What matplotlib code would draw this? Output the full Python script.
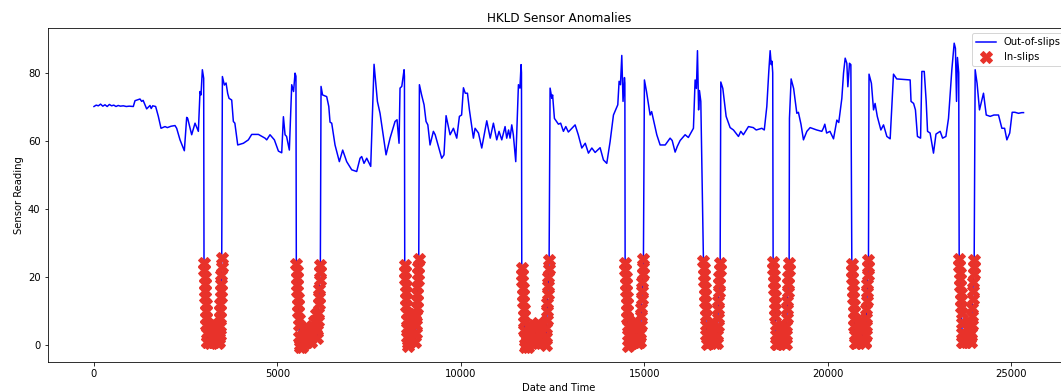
import numpy as np
from matplotlib import pyplot as plt

# out-of-slip readings (index, value)
out_x = [0, 60, 120, 180, 240, 300, 360, 420, 480, 540, 600, 660, 720, 800, 880, 960, 1072, 1118, 1254, 1300, 1340,
         1436, 1527, 1560, 1600, 1681, 1754, 1827, 1936, 2000, 2100, 2208, 2254, 2345, 2463, 2527, 2554, 2663, 2754,
         2845, 2890, 2917, 2954, 2990,
         3500, 3554, 3600, 3645, 3681, 3754, 3799, 3840, 3918, 4072, 4208, 4299, 4481, 4662, 4708, 4798, 4917, 5027,
         5117, 5163, 5208, 5250, 5325, 5390, 5440, 5480, 5505,
         6189, 6230, 6343, 6400, 6434, 6480, 6570, 6688, 6779, 6888, 7025, 7161, 7252, 7297, 7360, 7434, 7543, 7634,
         7725, 7797, 7961, 8070, 8206, 8260, 8315, 8342, 8390, 8452, 8462,
         8870, 8930, 8997, 9051, 9100, 9160, 9251, 9300, 9478, 9540, 9597, 9706, 9797, 9888, 9960, 10020, 10070,
         10120, 10180, 10233, 10342, 10365, 10387, 10480, 10569, 10706, 10800, 10887, 10978, 11040, 11115, 11205,
         11250, 11300, 11341, 11387, 11430, 11496, 11569, 11610, 11641, 11652,
         12432, 12480, 12500, 12550, 12659, 12720, 12795, 12860, 12930, 13114, 13200, 13296, 13390, 13477, 13570,
         13660, 13795, 13886, 13977, 14068, 14159, 14277, 14313, 14350, 14386, 14420, 14459, 14470,
         15003, 15060, 15158, 15200, 15340, 15431, 15570, 15703, 15760, 15840, 15900, 15976, 16112, 16200, 16339,
         16385, 16420, 16449, 16480, 16503, 16540,
         17085, 17140, 17230, 17339, 17430, 17566, 17630, 17700, 17839, 17970, 18050, 18203, 18270, 18339, 18393,
         18430, 18460, 18480, 18500,
         18956, 19002, 19070, 19157, 19200, 19270, 19338, 19430, 19520, 19700, 19838, 19880, 19920, 19970, 20060,
         20157, 20248, 20300, 20384, 20430, 20475, 20520, 20548, 20593, 20630,
         21125, 21190, 21248, 21290, 21350, 21448, 21520, 21611, 21701, 21792, 21880, 22246, 22270, 22340, 22390,
         22445, 22530, 22565, 22630, 22683, 22720, 22790, 22882, 22950, 23064, 23130, 23220, 23291, 23382, 23446,
         23480, 23510, 23535, 23570,
         24018, 24070, 24136, 24245, 24320, 24427, 24530, 24654, 24746, 24820, 24882, 24960, 25027, 25100, 25200,
         25290, 25336]
out_y = [70.1, 70.5, 70.3, 70.8, 70.2, 70.6, 70.1, 70.7, 70.3, 70.5, 70.1, 70.4, 70.2, 70.3, 70.1, 70.2, 70.1, 71.8,
         72.3, 71.6, 71.9, 69.4, 70.4, 69.5, 70.3, 70.1, 67.2, 63.7, 64.2, 63.9, 64.3, 64.5, 63.7, 60.3, 57.1, 66.9,
         66.6, 61.8, 65.2, 62.8, 74.5, 73.5, 80.9, 78.4,
         78.9, 76.4, 77.0, 73.9, 72.5, 72.0, 65.7, 65.2, 58.8, 59.3, 60.3, 61.9, 61.9, 60.8, 60.3, 61.8, 60.3, 57.0,
         56.5, 67.1, 61.8, 61.3, 57.3, 76.5, 74.5, 79.9, 79.0,
         76.0, 73.5, 73.0, 70.1, 65.5, 65.2, 58.8, 53.9, 57.3, 53.9, 51.5, 51.0, 54.9, 55.4, 53.4, 54.9, 52.5, 82.5,
         71.6, 68.1, 55.9, 60.8, 65.7, 66.2, 59.3, 75.5, 76.0, 80.9, 79.0,
         76.5, 73.5, 70.6, 65.7, 64.7, 58.8, 62.8, 61.8, 54.9, 55.9, 67.4, 61.8, 63.7, 60.8, 67.2, 67.6, 75.6,
         74.0, 74.0, 69.1, 60.8, 62.3, 63.7, 62.3, 57.9, 65.9, 60.8, 65.2, 60.3, 62.8, 60.3, 64.2,
         60.8, 63.2, 60.8, 64.7, 61.8, 53.9, 76.5, 75.5, 82.4, 80.0,
         75.5, 72.5, 73.5, 66.6, 64.9, 65.2, 62.8, 64.2, 62.6, 64.7, 61.8, 57.9, 59.3, 56.4, 57.9,
         56.6, 58.0, 54.4, 53.4, 59.8, 67.6, 70.6, 77.5, 76.5, 85.1, 71.6, 78.6, 77.0,
         77.9, 74.5, 67.6, 68.6, 61.8, 58.8, 58.8, 60.8, 60.1, 56.7, 58.4, 60.1, 61.8, 61.0, 63.7,
         77.9, 75.4, 86.5, 69.1, 74.8, 71.6,
         77.3, 75.4, 67.2, 63.9, 63.2, 61.3, 62.8, 61.8, 64.2, 63.9, 63.2, 63.7, 63.2, 70.1, 80.4,
         86.5, 82.4, 83.4, 80.0,
         66.6, 78.2, 75.4, 68.1, 68.4, 64.9, 60.3, 62.8, 63.9, 63.2, 62.8, 63.7, 64.9, 62.3, 62.8,
         60.6, 66.1, 65.4, 72.5, 79.9, 84.3, 82.8, 75.9, 82.8, 82.4,
         79.6, 76.9, 69.1, 71.0, 67.2, 63.2, 64.7, 61.3, 60.6, 79.6, 78.2, 77.9, 71.6, 71.0, 69.1,
         61.3, 60.8, 80.4, 80.4, 71.6, 62.8, 62.3, 56.4, 62.0, 62.8, 60.8, 61.3, 66.6, 80.9, 88.7,
         87.2, 71.6, 84.5, 80.0,
         80.9, 76.9, 69.1, 74.0, 67.6, 67.2, 67.6, 67.6, 63.7, 63.7, 60.3, 62.3, 68.4, 68.4, 68.1,
         68.3, 68.3]

# in-slip readings, one list per slip event
slip_x = [
    [2999, 3006, 3013, 3020, 3027, 3034, 3041, 3048, 3055, 3062, 3069, 3076,
     3090, 3120, 3150, 3180, 3210, 3240, 3270, 3300, 3330, 3360, 3390, 3410,
     3418, 3424, 3430, 3436, 3442, 3448, 3454, 3460, 3466, 3472, 3477, 3482],
    [5515, 5523, 5531, 5539, 5547, 5555, 5563, 5571, 5579, 5587, 5595, 5605,
     5620, 5650, 5680, 5710, 5740, 5770, 5800, 5830, 5860, 5890, 5920, 5950, 5980, 6010, 6040, 6065,
     6080, 6090, 6100, 6110, 6120, 6130, 6140, 6150, 6160, 6170],
    [8470, 8477, 8484, 8491, 8498, 8505, 8512, 8519, 8526, 8533, 8540, 8548,
     8560, 8590, 8620, 8650, 8680, 8710, 8740,
     8762, 8770, 8778, 8786, 8794, 8802, 8810, 8818, 8826, 8834, 8842, 8852],
    [11660, 11668, 11676, 11684, 11692, 11700, 11708, 11716, 11724, 11732, 11740, 11750,
     11770, 11800, 11830, 11860, 11890, 11920, 11950, 11980, 12010, 12040, 12070, 12100, 12130, 12160, 12190,
     12220, 12250, 12280,
     12315, 12324, 12333, 12342, 12351, 12360, 12369, 12378, 12387, 12396, 12405],
    [14477, 14485, 14493, 14501, 14509, 14517, 14525, 14533, 14541, 14549, 14557, 14565,
     14590, 14620, 14650, 14680, 14710, 14740, 14770, 14800, 14830, 14860,
     14886, 14895, 14904, 14913, 14922, 14931, 14940, 14949, 14958, 14967, 14976],
    [16612, 16620, 16628, 16636, 16644, 16652, 16660, 16668, 16676, 16684, 16692, 16700,
     16730, 16760, 16790, 16820, 16850, 16880, 16910, 16940, 16965,
     16977, 16986, 16995, 17004, 17013, 17022, 17031, 17040, 17049, 17058, 17067],
    [18511, 18519, 18527, 18535, 18543, 18551, 18559, 18567, 18575, 18583, 18591, 18599,
     18630, 18660, 18690, 18720, 18750, 18780, 18810, 18840,
     18857, 18866, 18875, 18884, 18893, 18902, 18911, 18920, 18929, 18938, 18947],
    [20656, 20664, 20672, 20680, 20688, 20696, 20704, 20712, 20720, 20728, 20736, 20744,
     20775, 20805, 20835, 20865, 20895, 20925, 20955, 20985, 21010,
     21020, 21029, 21038, 21047, 21056, 21065, 21074, 21083, 21092, 21101, 21110],
    [23582, 23590, 23598, 23606, 23614, 23622, 23630, 23638, 23646, 23654, 23662, 23670,
     23700, 23730, 23760, 23790, 23820, 23850, 23880,
     23901, 23910, 23919, 23928, 23937, 23946, 23955, 23964, 23973, 23982, 23991],
]
slip_y = [
    [24, 22, 20, 18, 16, 14, 12, 10, 8, 6, 3.5, 1,
     1, 4, 0.5, 6, 2, 6.5, 1, 6, 3, 5, 0.5, 2,
     1, 3, 5.5, 8, 10, 12, 14, 16, 18, 20.5, 23, 25.5],
    [23.8, 21.8, 19.8, 17.8, 15.8, 13.8, 11.8, 9.8, 7.8, 5.8, 2.5, -0.5,
     0, 2, -0.5, 3, 0.5, 4.5, 1, 5, 2, 4, 1, 5.5, 3, 7, 5, 9,
     2, 4.5, 7, 9.5, 12, 14, 16.5, 19, 21.5, 23.5],
    [23.5, 21.5, 19.5, 17.5, 15.5, 13.5, 11.5, 9.5, 7.5, 5, 2.5, -0.3,
     0.5, 3, 1, 5, 2, 7, 9,
     1, 3.5, 6, 8.5, 11, 13, 15, 17, 19, 21, 23, 25.3],
    [22.7, 20.7, 18.7, 16.7, 14.7, 12.7, 10.7, 8.7, 6.7, 4.5, 2, -0.5,
     0, 3, -0.5, 5.5, 1, 4, 0.5, 6, 2, 5, 1, 6.5, 2, 5, 0.5, 4, 1, 2,
     0, 2.5, 5, 7.5, 10, 12.5, 15, 17.5, 20, 22.5, 25],
    [24, 22, 20, 18, 16, 14, 12, 10, 8, 5.5, 3, -0.4,
     0, 3, 0.5, 5, 1, 7, 2, 5, 0.5, 2,
     1, 3.5, 6, 8.5, 11, 13.5, 16, 18.5, 21, 23, 25.3],
    [24.7, 22.7, 20.7, 18.7, 16.7, 14.7, 12.7, 10.7, 8.7, 6, 3, 0.3,
     0.5, 3, 1, 5, 6.8, 2, 4, 0.5, 1,
     0.5, 3, 5.5, 8, 10.5, 13, 15.5, 18, 20, 22, 24],
    [24.5, 22.5, 20.5, 18.5, 16.5, 14.5, 12.5, 10.5, 8.5, 6, 3, 0.3,
     0.3, 2.5, 0.5, 4, 5, 1, 3, 0.5,
     0.3, 3, 5.5, 8, 10.5, 13, 15.5, 18, 20, 22, 24],
    [23.8, 21.8, 19.8, 17.8, 15.8, 13.8, 11.8, 9.8, 7.8, 5.5, 3, 0.5,
     0.5, 3, 1, 5, 7.4, 2, 5, 1, 1,
     0.5, 3, 5.5, 8, 10.5, 13, 15.5, 18, 20.5, 23, 25],
    [25.3, 23.3, 21.3, 19.3, 17.3, 15.3, 13.3, 11.3, 9.3, 6.5, 3.5, 0.9,
     1, 3, 1, 5, 6.8, 3, 2,
     0.9, 3.5, 6, 8.5, 11, 13.5, 16, 18.5, 21, 23, 25],
]

ins_x = np.concatenate([np.array(s, dtype=float) for s in slip_x])
ins_y = np.concatenate([np.array(s, dtype=float) for s in slip_y])

# full series for the line = both sets merged by index
all_x = np.concatenate([np.array(out_x, dtype=float), ins_x])
all_y = np.concatenate([np.array(out_y, dtype=float), ins_y])
order = np.argsort(all_x, kind='stable')
all_x = all_x[order]
all_y = all_y[order]

fig = plt.figure(figsize=(1061 / 72, 392 / 72), dpi=72)
ax = fig.add_axes([47.5 / 1061, 30 / 392, (1070 - 47.5) / 1061, (362 - 28) / 392])

ax.plot(all_x, all_y, color='b', linewidth=1.5, label='Out-of-slips')
ax.plot(ins_x, ins_y, 'X', color='#e8322a', markersize=12, label='In-slips')

ax.set_title('HKLD Sensor Anomalies')
ax.set_xlabel('Date and Time')
ax.set_ylabel('Sensor Reading')
ax.legend(loc='upper right')

fig.savefig('out.png', dpi=72)
